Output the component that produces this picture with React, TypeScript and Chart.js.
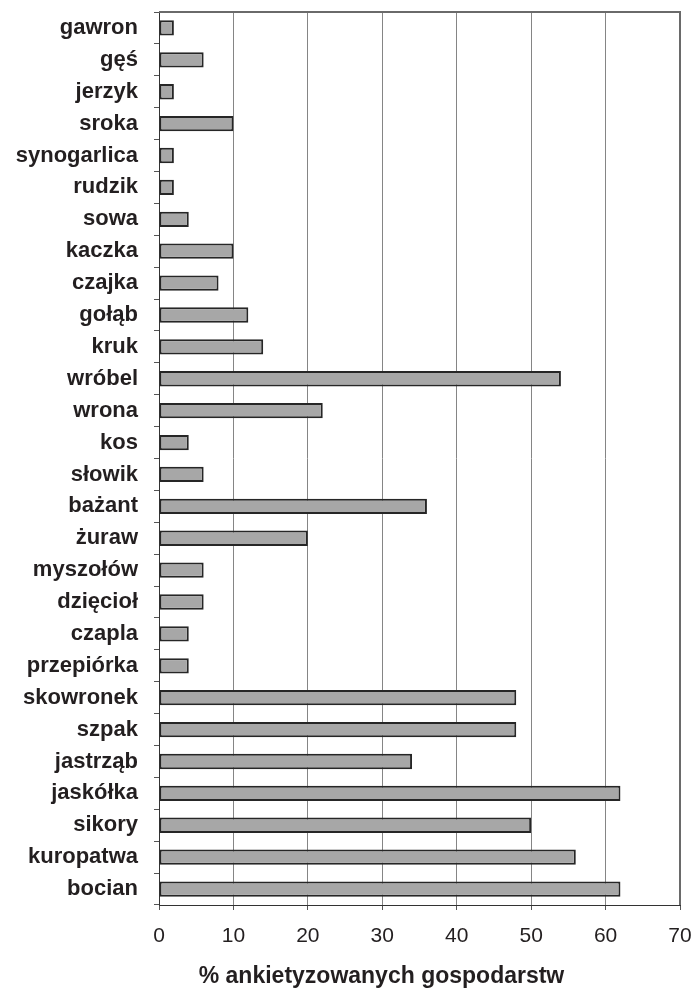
import React, { useEffect, useRef } from "react";
import { Chart, registerables } from "chart.js";

Chart.register(...registerables);

const categories: string[] = [
  "gawron", "gęś", "jerzyk", "sroka", "synogarlica", "rudzik", "sowa",
  "kaczka", "czajka", "gołąb", "kruk", "wróbel", "wrona", "kos", "słowik",
  "bażant", "żuraw", "myszołów", "dzięcioł", "czapla", "przepiórka",
  "skowronek", "szpak", "jastrząb", "jaskółka", "sikory", "kuropatwa", "bocian",
];

const percentValues: number[] = [
  2, 6, 2, 10, 2, 2, 4,
  10, 8, 12, 14, 54, 22, 4, 6,
  36, 20, 6, 6, 4, 4,
  48, 48, 34, 62, 50, 56, 62,
];

const xTickValues: number[] = [0, 10, 20, 30, 40, 50, 60, 70];
const xAxisTitle = "% ankietyzowanych gospodarstw";

const FONT = "'Liberation Sans', Arial, Helvetica, sans-serif";
const TEXT = "#231f20";

const frameAndTitle = {
  id: "frameAndTitle",
  afterDraw(chart: any) {
    const { ctx, chartArea } = chart;
    ctx.save();
    ctx.strokeStyle = "#6a6a6a";
    ctx.lineWidth = 2;
    ctx.beginPath();
    ctx.moveTo(chartArea.left, chartArea.top);
    ctx.lineTo(chartArea.right, chartArea.top);
    ctx.lineTo(chartArea.right, chartArea.bottom);
    ctx.stroke();
    ctx.fillStyle = TEXT;
    ctx.font = `bold 23px ${FONT}`;
    ctx.textAlign = "center";
    ctx.textBaseline = "alphabetic";
    ctx.fillText(xAxisTitle, (chartArea.left + chartArea.right) / 2 - 38, chartArea.bottom + 78);
    ctx.restore();
  },
};

export default function App() {
  const ref = useRef<HTMLCanvasElement | null>(null);

  useEffect(() => {
    if (!ref.current) return;
    const chart = new Chart(ref.current, {
      type: "bar",
      data: {
        labels: categories,
        datasets: [
          {
            data: percentValues,
            backgroundColor: "#a7a7a7",
            borderColor: "#262626",
            borderWidth: 2,
            borderSkipped: false,
            categoryPercentage: 1,
            barPercentage: 0.48,
          },
        ],
      },
      options: {
        indexAxis: "y",
        animation: false,
        responsive: false,
        devicePixelRatio: 1,
        layout: { padding: { left: 0, right: 16, top: 12, bottom: 35 } },
        plugins: {
          legend: { display: false },
          tooltip: { enabled: false },
        },
        scales: {
          x: {
            type: "linear",
            min: 0,
            max: 70,
            afterBuildTicks: (s: any) => {
              s.ticks = xTickValues.map((v) => ({ value: v }));
            },
            afterFit: (s: any) => {
              s.height = 50;
              s.paddingLeft = 0;
              s.paddingRight = 0;
            },
            ticks: {
              color: TEXT,
              font: { family: FONT, size: 21 },
              padding: 14,
              maxRotation: 0,
            },
            grid: {
              color: "#858585",
              lineWidth: 1,
              drawTicks: true,
              tickLength: 5,
              tickColor: "#555555",
            },
            border: { display: true, color: "#333333", width: 1 },
          },
          y: {
            type: "category",
            afterFit: (s: any) => {
              s.width = 159;
              s.paddingTop = 0;
              s.paddingBottom = 0;
            },
            ticks: {
              color: TEXT,
              font: { family: FONT, size: 22, weight: "bold" },
              padding: 16,
              autoSkip: false,
            },
            grid: {
              drawOnChartArea: false,
              drawTicks: true,
              tickLength: 5,
              offset: true,
              color: "#555555",
            },
            border: { display: true, color: "#333333", width: 1 },
          },
        },
      },
      plugins: [frameAndTitle],
    });
    return () => chart.destroy();
  }, []);

  return (
    <div style={{ position: "absolute", left: 0, top: 0, width: 696, height: 990, background: "#fff" }}>
      <canvas ref={ref} width={696} height={990} style={{ width: 696, height: 990, display: "block" }} />
    </div>
  );
}
